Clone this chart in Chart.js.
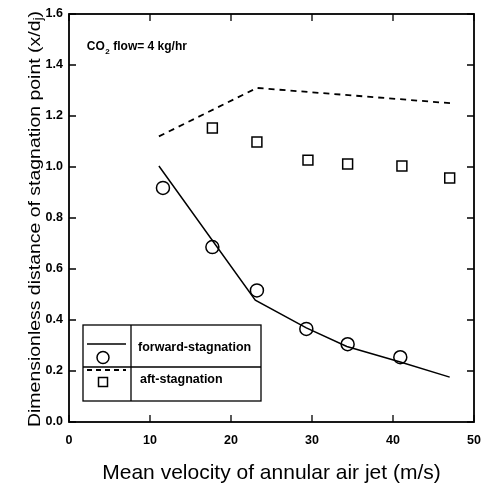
<!DOCTYPE html>
<html>
<head>
<meta charset="utf-8">
<script src="https://cdn.jsdelivr.net/npm/chart.js@4/dist/chart.umd.min.js"></script>
<style>
html,body{margin:0;padding:0;background:#fff;}
#wrap{width:488px;height:486px;position:relative;}
</style>
</head>
<body>
<div id="wrap"><canvas id="c" width="488" height="486"></canvas></div>
<script>
// ---- data ----
const fwdX = [11.6, 17.7, 23.2, 29.3, 34.4, 40.9];
const fwdY = [0.918, 0.686, 0.516, 0.365, 0.305, 0.254];
const aftX = [17.7, 23.2, 29.5, 34.4, 41.1, 47.0];
const aftY = [1.153, 1.098, 1.027, 1.012, 1.004, 0.957];
const fwdFitX = [11.1, 23.0, 29.3, 34.3, 40.9, 47.0];
const fwdFitY = [1.004, 0.478, 0.369, 0.296, 0.235, 0.176];
const aftFitX = [11.1, 23.2, 47.2];
const aftFitY = [1.12, 1.31, 1.25];
const xTicks = [0, 10, 20, 30, 40, 50];
const yTicks = [0.0, 0.2, 0.4, 0.6, 0.8, 1.0, 1.2, 1.4, 1.6];
const legendLabels = ['forward-stagnation', 'aft-stagnation'];
const xTitle = 'Mean velocity of annular air jet (m/s)';
const yTitleMain = 'Dimensionless distance of stagnation point (x/d';
const yTitleSub = 'j';
const yTitleEnd = ')';

const pts = (xs, ys) => xs.map((x, i) => ({x: x, y: ys[i]}));
const FONT = '"Liberation Sans", Arial, sans-serif';

const framePlugin = {
  id: 'frame',
  afterDatasetsDraw(chart) {
    const ctx = chart.ctx;
    const a = chart.chartArea;
    const xs = chart.scales.x, ys = chart.scales.y;
    ctx.save();
    ctx.strokeStyle = '#000';
    ctx.lineWidth = 1.8;
    ctx.strokeRect(a.left, a.top, a.right - a.left, a.bottom - a.top);
    ctx.lineWidth = 1.3;
    const tl = 7;
    ctx.beginPath();
    xTicks.forEach(v => {
      const px = xs.getPixelForValue(v);
      ctx.moveTo(px, a.bottom); ctx.lineTo(px, a.bottom - tl);
      ctx.moveTo(px, a.top); ctx.lineTo(px, a.top + tl);
    });
    yTicks.forEach(v => {
      const py = ys.getPixelForValue(v);
      ctx.moveTo(a.left, py); ctx.lineTo(a.left + tl, py);
      ctx.moveTo(a.right, py); ctx.lineTo(a.right - tl, py);
    });
    ctx.stroke();

    // y axis title (rotated, stretched along its length to match the reference)
    ctx.save();
    ctx.fillStyle = '#000';
    ctx.textBaseline = 'middle';
    ctx.textAlign = 'left';
    const mainF = '17px ' + FONT, subF = '12px ' + FONT;
    ctx.font = mainF;
    const w1 = ctx.measureText(yTitleMain).width;
    const w3 = ctx.measureText(yTitleEnd).width;
    ctx.font = subF;
    const w2 = ctx.measureText(yTitleSub).width;
    const total = w1 + w2 + w3;
    const target = 416;
    ctx.translate(35, (a.top + a.bottom) / 2 + 1);
    ctx.rotate(-Math.PI / 2);
    ctx.scale(target / total, 1);
    let x0 = -total / 2;
    ctx.font = mainF;
    ctx.fillText(yTitleMain, x0, 0);
    ctx.font = subF;
    ctx.fillText(yTitleSub, x0 + w1, 4);
    ctx.font = mainF;
    ctx.fillText(yTitleEnd, x0 + w1 + w2, 0);
    ctx.restore();

    // annotation
    const ax = xs.getPixelForValue(2.2), ay = ys.getPixelForValue(1.47);
    ctx.fillStyle = '#000';
    ctx.textBaseline = 'middle';
    ctx.textAlign = 'left';
    ctx.font = 'bold 12px ' + FONT;
    ctx.fillText('CO', ax, ay);
    let w = ctx.measureText('CO').width;
    ctx.font = 'bold 8px ' + FONT;
    ctx.fillText('2', ax + w + 0.5, ay + 4.5);
    w += ctx.measureText('2').width + 4;
    ctx.font = 'bold 12px ' + FONT;
    ctx.fillText('flow= 4 kg/hr', ax + w, ay);

    // legend box
    const L = 83, R = 261, T = 325, B = 401, D = 131, M = 367;
    ctx.lineWidth = 1.3;
    ctx.fillStyle = '#fff';
    ctx.fillRect(L, T, R - L, B - T);
    ctx.strokeRect(L, T, R - L, B - T);
    ctx.beginPath();
    ctx.moveTo(D, T); ctx.lineTo(D, B);
    ctx.moveTo(L, M); ctx.lineTo(R, M);
    ctx.stroke();
    // row 1: solid line + circle
    ctx.lineWidth = 1.5;
    ctx.beginPath(); ctx.moveTo(87, 344); ctx.lineTo(126, 344); ctx.stroke();
    ctx.beginPath(); ctx.arc(103, 357.5, 6, 0, Math.PI * 2); ctx.stroke();
    // row 2: dashed line + square
    ctx.setLineDash([5, 4]);
    ctx.lineWidth = 1.8;
    ctx.beginPath(); ctx.moveTo(87, 370); ctx.lineTo(126, 370); ctx.stroke();
    ctx.setLineDash([]);
    ctx.lineWidth = 1.5;
    ctx.strokeRect(98.5, 377.5, 9, 9);
    ctx.fillStyle = '#000';
    ctx.font = 'bold 12.5px ' + FONT;
    ctx.fillText(legendLabels[0], 138, 348);
    ctx.fillText(legendLabels[1], 140, 380);
    ctx.restore();
  }
};

new Chart(document.getElementById('c'), {
  type: 'scatter',
  data: {
    datasets: [
      {label: 'aft fit', data: pts(aftFitX, aftFitY), showLine: true, borderColor: '#000', borderWidth: 1.8, borderDash: [6, 5], pointRadius: 0, fill: false},
      {label: 'forward fit', data: pts(fwdFitX, fwdFitY), showLine: true, borderColor: '#000', borderWidth: 1.5, pointRadius: 0, fill: false, tension: 0},
      {label: legendLabels[0], data: pts(fwdX, fwdY), pointStyle: 'circle', pointRadius: 6.5, borderColor: '#000', borderWidth: 1.5, backgroundColor: 'rgba(0,0,0,0)'},
      {label: legendLabels[1], data: pts(aftX, aftY), pointStyle: 'rect', pointRadius: 7, borderColor: '#000', borderWidth: 1.5, backgroundColor: 'rgba(0,0,0,0)'}
    ]
  },
  options: {
    responsive: false,
    animation: false,
    layout: {padding: {left: 0, right: 14, top: 14, bottom: 0}},
    plugins: {legend: {display: false}, tooltip: {enabled: false}},
    scales: {
      x: {
        type: 'linear', min: 0, max: 50,
        afterBuildTicks: s => { s.ticks = xTicks.map(v => ({value: v})); },
        afterFit: s => { s.height = 64; s.paddingLeft = 0; s.paddingRight = 0; },
        grid: {display: false, drawTicks: false, tickLength: 0},
        border: {display: false},
        ticks: {color: '#000', padding: 11, font: {family: FONT, size: 12.5, weight: 'bold'}, maxRotation: 0},
        title: {display: true, text: xTitle, color: '#000', font: {family: FONT, size: 21}, padding: {top: 0, bottom: 0}}
      },
      y: {
        type: 'linear', min: 0, max: 1.6,
        afterBuildTicks: s => { s.ticks = yTicks.map(v => ({value: v})); },
        afterFit: s => { s.width = 69; s.paddingTop = 0; s.paddingBottom = 0; },
        grid: {display: false, drawTicks: false, tickLength: 0},
        border: {display: false},
        ticks: {color: '#000', padding: 6, font: {family: FONT, size: 12.5, weight: 'bold'}, callback: v => Number(v).toFixed(1)},
        title: {display: false}
      }
    }
  },
  plugins: [framePlugin]
});
</script>
</body>
</html>
